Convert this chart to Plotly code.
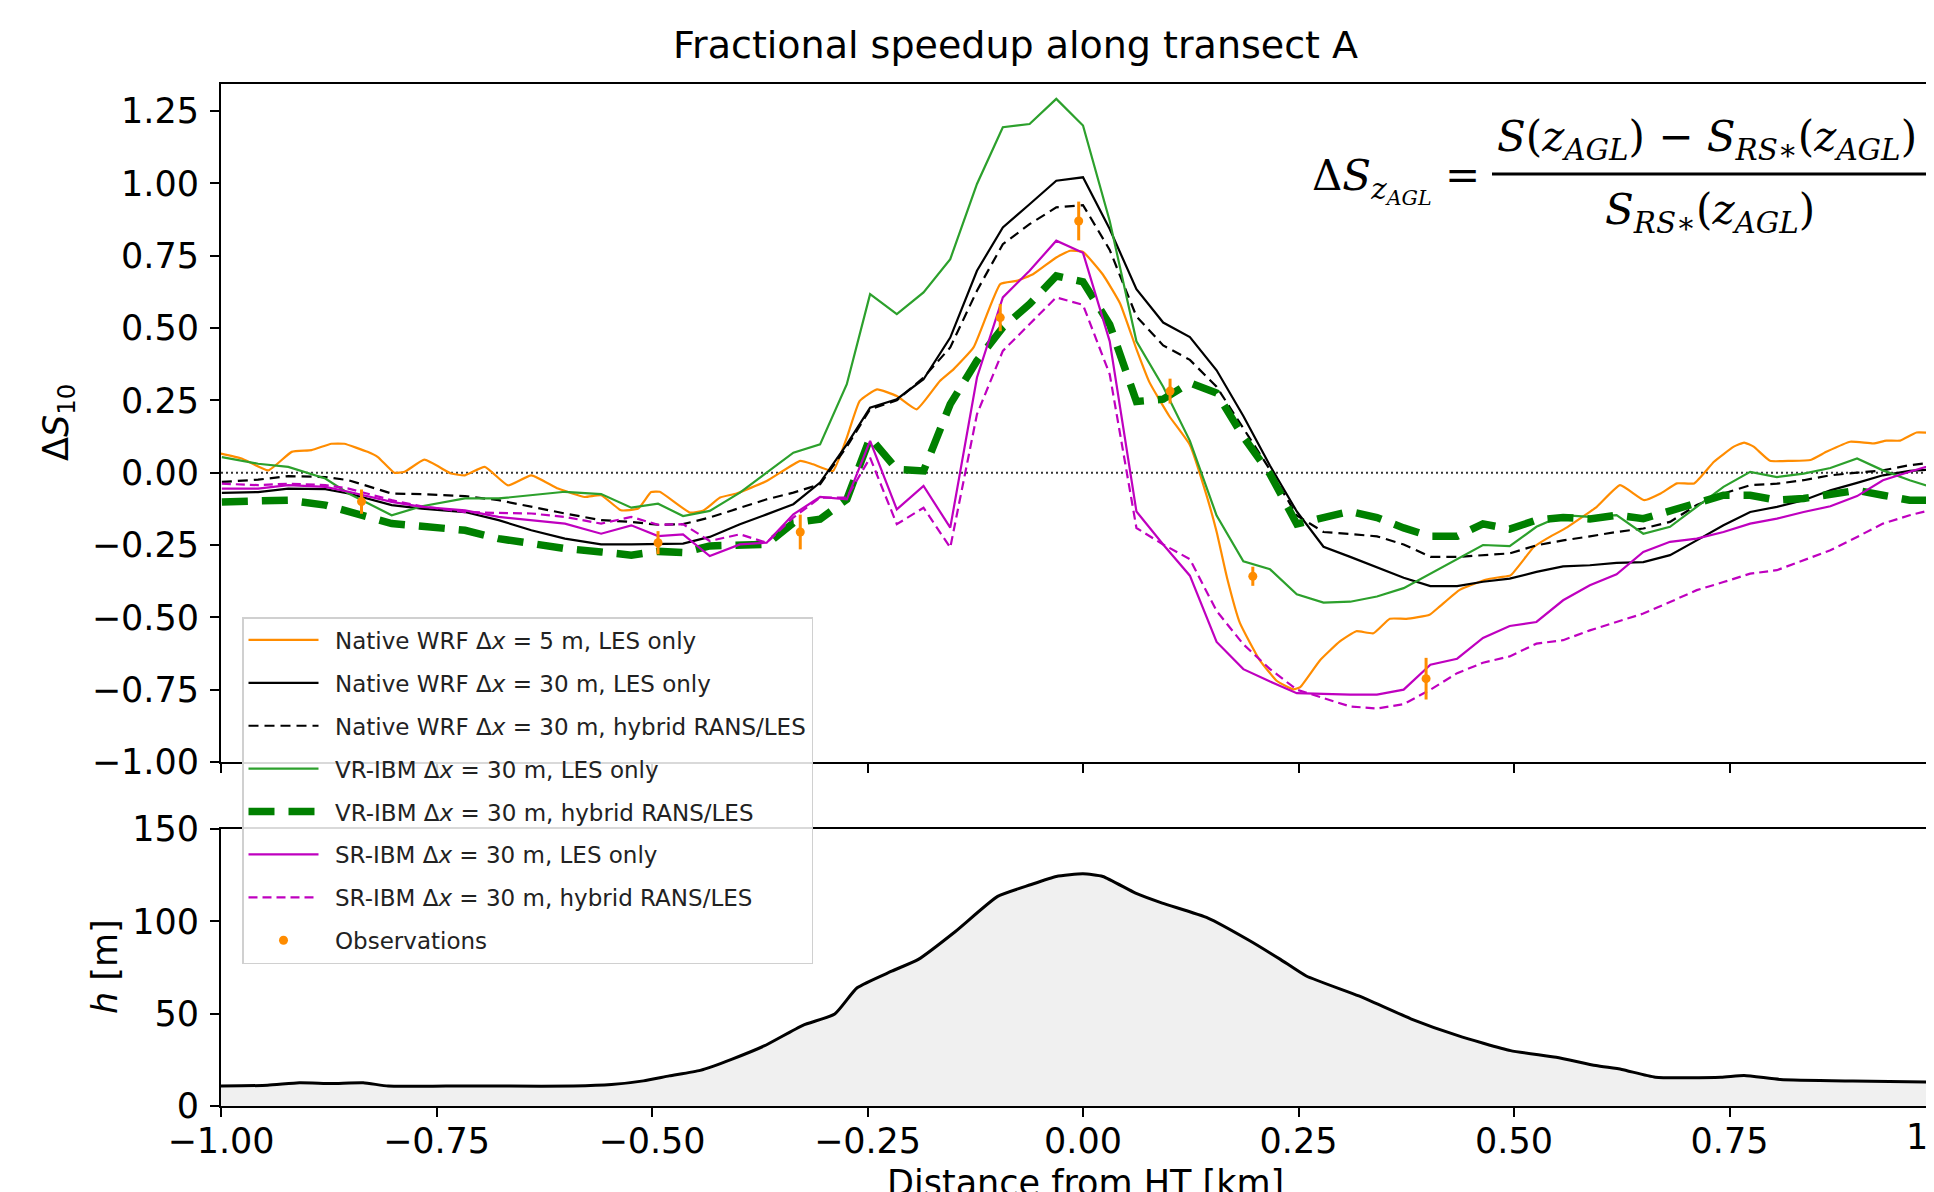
import plotly.graph_objects as go

# ---------------- data ----------------
# common x positions (km) of the Δx = 30 m runs
x_grid = [
    -0.999, -0.957, -0.922, -0.879, -0.852, -0.802, -0.767, -0.717, -0.678, -0.640, -0.601, -0.559, -0.524, -0.493,
    -0.464, -0.433, -0.398, -0.367, -0.336, -0.305, -0.274, -0.247, -0.216, -0.185, -0.154, -0.123, -0.093, -0.062, -0.031, 0.0,
    0.031, 0.062, 0.093, 0.124, 0.155, 0.186, 0.217, 0.248, 0.279, 0.310, 0.341, 0.372, 0.403, 0.434, 0.464, 0.495,
    0.526, 0.557, 0.588, 0.619, 0.650, 0.681, 0.712, 0.743, 0.774, 0.805, 0.836, 0.867, 0.898, 0.928, 0.959, 0.990,
]

native30_les = [
    -0.070, -0.067, -0.055, -0.057, -0.072, -0.112, -0.124, -0.136, -0.164, -0.199, -0.228, -0.248, -0.248, -0.246,
    -0.245, -0.222, -0.178, -0.144, -0.109, -0.034, 0.098, 0.225, 0.254, 0.323, 0.467, 0.698, 0.848, 0.928, 1.009, 1.021,
    0.842, 0.634, 0.519, 0.469, 0.354, 0.196, 0.024, -0.134, -0.256, -0.291, -0.327, -0.363, -0.392, -0.392, -0.377, -0.366,
    -0.343, -0.324, -0.320, -0.312, -0.309, -0.285, -0.234, -0.182, -0.136, -0.118, -0.095, -0.061, -0.035, -0.009, 0.006, 0.012,
]

native30_hyb = [
    -0.032, -0.024, -0.012, -0.015, -0.026, -0.072, -0.074, -0.081, -0.095, -0.118, -0.141, -0.164, -0.170, -0.180,
    -0.178, -0.155, -0.121, -0.092, -0.069, -0.040, 0.090, 0.219, 0.250, 0.329, 0.433, 0.629, 0.790, 0.859, 0.917, 0.925,
    0.770, 0.540, 0.440, 0.390, 0.297, 0.153, 0.010, -0.148, -0.205, -0.212, -0.220, -0.248, -0.291, -0.291, -0.284, -0.279,
    -0.251, -0.234, -0.220, -0.205, -0.193, -0.170, -0.112, -0.072, -0.043, -0.038, -0.026, -0.009, 0.000, 0.008, 0.026, 0.037,
]

vr_les = [
    0.054, 0.031, 0.020, -0.020, -0.072, -0.147, -0.116, -0.089, -0.089, -0.078, -0.066, -0.074, -0.121, -0.107,
    -0.150, -0.132, -0.069, 0.000, 0.069, 0.098, 0.306, 0.617, 0.548, 0.623, 0.738, 0.998, 1.194, 1.205, 1.292, 1.200,
    0.870, 0.454, 0.297, 0.110, -0.148, -0.306, -0.334, -0.420, -0.449, -0.446, -0.428, -0.399, -0.349, -0.299, -0.250, -0.254,
    -0.187, -0.147, -0.153, -0.147, -0.211, -0.187, -0.118, -0.049, 0.003, -0.015, -0.003, 0.016, 0.049, 0.008, -0.026, -0.055,
]

vr_hyb = [
    -0.101, -0.101, -0.095, -0.112, -0.135, -0.176, -0.185, -0.199, -0.228, -0.245, -0.262, -0.274, -0.285, -0.272,
    -0.276, -0.253, -0.253, -0.248, -0.173, -0.161, -0.092, 0.121, 0.012, 0.006, 0.237, 0.387, 0.502, 0.583, 0.680, 0.660,
    0.512, 0.246, 0.254, 0.311, 0.275, 0.124, -0.005, -0.177, -0.155, -0.134, -0.155, -0.191, -0.220, -0.220, -0.177, -0.195,
    -0.164, -0.155, -0.160, -0.147, -0.159, -0.130, -0.107, -0.078, -0.078, -0.095, -0.089, -0.078, -0.061, -0.078, -0.095, -0.095,
]

sr_les = [
    -0.055, -0.055, -0.043, -0.049, -0.066, -0.101, -0.118, -0.130, -0.153, -0.164, -0.176, -0.211, -0.182, -0.219,
    -0.213, -0.288, -0.248, -0.242, -0.144, -0.084, -0.092, 0.110, -0.127, -0.046, -0.190, 0.329, 0.606, 0.698, 0.802, 0.760,
    0.454, -0.134, -0.248, -0.356, -0.585, -0.679, -0.722, -0.762, -0.765, -0.767, -0.767, -0.750, -0.664, -0.643, -0.571, -0.530,
    -0.516, -0.441, -0.389, -0.351, -0.274, -0.239, -0.228, -0.205, -0.176, -0.159, -0.136, -0.116, -0.081, -0.026, 0.003, 0.031,
]

sr_hyb = [
    -0.038, -0.043, -0.038, -0.043, -0.055, -0.095, -0.116, -0.136, -0.139, -0.141, -0.153, -0.176, -0.153, -0.180,
    -0.178, -0.236, -0.213, -0.242, -0.155, -0.086, -0.086, 0.052, -0.178, -0.121, -0.259, 0.202, 0.421, 0.513, 0.606, 0.580,
    0.340, -0.191, -0.248, -0.299, -0.478, -0.593, -0.679, -0.750, -0.779, -0.808, -0.815, -0.800, -0.750, -0.693, -0.657, -0.635,
    -0.591, -0.579, -0.545, -0.516, -0.487, -0.447, -0.406, -0.378, -0.349, -0.337, -0.303, -0.268, -0.222, -0.176, -0.147, -0.124,
]

# Native WRF Δx = 5 m (finer sampling)
native5_x = [
    -1.0, -0.976, -0.945, -0.918, -0.895, -0.872, -0.857, -0.830, -0.818, -0.799, -0.787, -0.764, -0.733, -0.717, -0.694,
    -0.667, -0.640, -0.609, -0.578, -0.559, -0.536, -0.516, -0.501, -0.491, -0.456, -0.441, -0.421, -0.402, -0.367, -0.328,
    -0.313, -0.290, -0.274, -0.259, -0.239, -0.216, -0.193, -0.166, -0.150, -0.127, -0.096, -0.077, -0.058, -0.031, -0.015,
    0.0, 0.023, 0.043, 0.062, 0.077, 0.100, 0.124, 0.143, 0.155, 0.167, 0.182, 0.205, 0.225, 0.244, 0.252,
    0.275, 0.298, 0.317, 0.337, 0.356, 0.375, 0.402, 0.414, 0.437, 0.468, 0.484, 0.496, 0.523, 0.538, 0.562,
    0.596, 0.623, 0.651, 0.670, 0.689, 0.709, 0.732, 0.755, 0.767, 0.778, 0.797, 0.821, 0.844, 0.863, 0.890,
    0.917, 0.932, 0.948, 0.967, 0.990,
]
native5_les = [
    0.066, 0.049, 0.008, 0.072, 0.078, 0.100, 0.100, 0.072, 0.054, 0.000, 0.003, 0.045, -0.003, -0.009, 0.020,
    -0.044, -0.009, -0.055, -0.084, -0.078, -0.130, -0.124, -0.067, -0.066, -0.138, -0.132, -0.086, -0.072, -0.029, 0.041,
    0.029, 0.006, 0.121, 0.248, 0.288, 0.265, 0.219, 0.317, 0.358, 0.433, 0.652, 0.663, 0.686, 0.744, 0.767,
    0.763, 0.685, 0.585, 0.427, 0.313, 0.196, 0.096, -0.075, -0.204, -0.362, -0.519, -0.648, -0.720, -0.749, -0.741,
    -0.648, -0.583, -0.548, -0.555, -0.505, -0.505, -0.491, -0.462, -0.405, -0.369, -0.361, -0.355, -0.257, -0.228, -0.188,
    -0.118, -0.043, -0.095, -0.072, -0.037, -0.037, 0.038, 0.090, 0.104, 0.090, 0.041, 0.041, 0.044, 0.073, 0.107,
    0.101, 0.111, 0.111, 0.139, 0.136,
]

obs_x = [-0.837, -0.493, -0.328, -0.096, -0.005, 0.101, 0.197, 0.398]
obs_y = [-0.100, -0.242, -0.205, 0.536, 0.870, 0.282, -0.358, -0.712]
obs_err = [0.042, 0.040, 0.060, 0.047, 0.067, 0.043, 0.033, 0.072]

terrain_x = [
    -1.0, -0.946, -0.909, -0.872, -0.835, -0.806, -0.739, -0.665, -0.591, -0.547,
    -0.510, -0.480, -0.444, -0.407, -0.370, -0.325, -0.288, -0.262, -0.222, -0.191,
    -0.148, -0.099, -0.061, -0.031, 0.0, 0.023, 0.061, 0.092, 0.145, 0.191,
    0.229, 0.259, 0.320, 0.381, 0.435, 0.496, 0.549, 0.595, 0.625, 0.664,
    0.740, 0.767, 0.809, 0.893, 0.990,
]
terrain_h = [
    10.8, 11.2, 12.6, 12.2, 12.6, 10.8, 10.8, 10.8, 10.8, 11.6,
    13.6, 16.3, 19.3, 25.4, 32.5, 43.7, 49.8, 64.0, 73.0, 79.4,
    94.5, 113.5, 119.8, 124.3, 125.7, 124.3, 115.3, 109.9, 101.8, 90.2,
    79.4, 70.4, 59.6, 47.1, 38.1, 30.0, 26.4, 21.9, 19.8, 15.6,
    15.6, 16.5, 14.4, 13.5, 12.9,
]

x_ticks = [-1.0, -0.75, -0.5, -0.25, 0.0, 0.25, 0.5, 0.75]
ds_ticks = [-1.0, -0.75, -0.5, -0.25, 0.0, 0.25, 0.5, 0.75, 1.0, 1.25]
h_ticks = [0, 50, 100, 150]

labels = [
    "Native WRF Δ<i>x</i> = 5 m, LES only",
    "Native WRF Δ<i>x</i> = 30 m, LES only",
    "Native WRF Δ<i>x</i> = 30 m, hybrid RANS/LES",
    "VR-IBM Δ<i>x</i> = 30 m, LES only",
    "VR-IBM Δ<i>x</i> = 30 m, hybrid RANS/LES",
    "SR-IBM Δ<i>x</i> = 30 m, LES only",
    "SR-IBM Δ<i>x</i> = 30 m, hybrid RANS/LES",
    "Observations",
]

# ---------------- layout geometry ----------------
# the page body has an 8 px margin, so the figure is drawn 8 px right/down of the canvas corner
OFF = 8
CW, CH = 1934, 1192                 # canvas
AX_L, AX_R, AX_T, AX_B = 221, 1934, 84, 1106   # plotting area in canvas pixels
W, H = CW - OFF, CH - OFF
L, T = AX_L - OFF, AX_T - OFF
B = CH - AX_B
PW, PH = AX_R - AX_L, AX_B - AX_T
KM_PX = 862.0


def px(xp):
    return (xp - AX_L) / PW


def py(yp):
    return (AX_B - yp) / PH


ORANGE = "#ff8c00"
BLACK = "#000000"
GREEN = "#2ca02c"
DGREEN = "#008000"
MAG = "#bf00bf"
FONT = "DejaVu Sans"
TICK = 35

fig = go.Figure()

fig.add_trace(go.Scatter(x=terrain_x, y=terrain_h, xaxis="x2", yaxis="y2", mode="lines",
                         line=dict(color="black", width=3, shape="spline", smoothing=0.5),
                         fill="tozeroy", fillcolor="#f0f0f0", showlegend=False, hoverinfo="skip"))

series = [
    (native5_x, native5_les, ORANGE, 2.2, "solid", "spline"),
    (x_grid, native30_les, BLACK, 2.2, "solid", "linear"),
    (x_grid, native30_hyb, BLACK, 2.2, "10px,6px", "linear"),
    (x_grid, vr_les, GREEN, 2.2, "solid", "linear"),
    (x_grid, vr_hyb, DGREEN, 7.5, "26px,14px", "linear"),
    (x_grid, sr_les, MAG, 2.2, "solid", "linear"),
    (x_grid, sr_hyb, MAG, 2.2, "9px,5px", "linear"),
]
for i, (xs, ys, col, wd, dash, shp) in enumerate(series):
    line = dict(color=col, width=wd, dash=dash, shape=shp)
    if shp == "spline":
        line["smoothing"] = 0.4
    fig.add_trace(go.Scatter(x=xs, y=ys, mode="lines", line=line, name="\u2002" + labels[i],
                             legendgroup="g%d" % i, xaxis="x", yaxis="y"))

fig.add_trace(go.Scatter(x=obs_x, y=obs_y, mode="markers", name="\u2002" + labels[7], legendgroup="g7",
                         marker=dict(color=ORANGE, size=9),
                         error_y=dict(type="data", array=obs_err, color=ORANGE, thickness=3, width=0),
                         xaxis="x", yaxis="y"))

axis_common = dict(showline=True, linecolor="black", linewidth=2, ticks="outside", ticklen=9,
                   tickwidth=2, tickcolor="black", showgrid=False, zeroline=False,
                   tickfont=dict(family=FONT, size=TICK, color="black"))

x_range = [-1.0, -1.0 + PW / KM_PX]

fig.update_layout(
    width=W, height=H,
    margin=dict(l=L, r=0, t=T, b=B),
    paper_bgcolor="white", plot_bgcolor="rgba(0,0,0,0)",
    font=dict(family=FONT, color="black"),
    xaxis=dict(domain=[0, 1], anchor="y", range=x_range, tickvals=x_ticks,
               showticklabels=False, mirror=True, **axis_common),
    yaxis=dict(domain=[py(762), 1], anchor="x", range=[-1.0, 1.3435], tickvals=ds_ticks,
               tickformat=".2f", ticklabelstandoff=4, **axis_common),
    xaxis2=dict(domain=[0, 1], anchor="y2", range=x_range, tickvals=x_ticks,
                tickformat=".2f", mirror=True, ticklabelstandoff=-6, **axis_common),
    yaxis2=dict(domain=[0, py(829)], anchor="x2", range=[0, 150], tickvals=h_ticks,
                ticklabelstandoff=4, **axis_common),
    showlegend=True,
    legend=dict(x=px(242), y=py(617), xanchor="left", yanchor="top",
                bgcolor="rgba(255,255,255,0.85)", bordercolor="#d0d0d0", borderwidth=1.5,
                font=dict(family=FONT, size=23, color="#222"), tracegroupgap=10, itemwidth=70,
                traceorder="grouped"),
)

# dotted zero line
fig.add_shape(type="line", xref="x", yref="y", x0=-1.0, x1=1.0, y0=0, y1=0,
              line=dict(color="#333333", width=2, dash="2px,3px"), layer="below")

# formula
SERIF = "DejaVu Serif"
FS = 42
fig.add_shape(type="line", xref="paper", yref="paper", x0=px(1492), x1=px(1950), y0=py(174), y1=py(174),
              line=dict(color="black", width=3))
fig.add_annotation(xref="paper", yref="paper", x=px(1482), y=py(180), xanchor="right", yanchor="middle",
                   text="Δ<i>S</i><sub><i>z<sub>AGL</sub></i></sub> =", showarrow=False,
                   font=dict(family=SERIF, size=FS, color="black"))
fig.add_annotation(xref="paper", yref="paper", x=px(1495), y=py(139), xanchor="left", yanchor="middle",
                   text="<i>S</i>(<i>z<sub>AGL</sub></i>) − <i>S<sub>RS∗</sub></i>(<i>z<sub>AGL</sub></i>)",
                   showarrow=False, font=dict(family=SERIF, size=FS, color="black"))
fig.add_annotation(xref="paper", yref="paper", x=px(1710), y=py(212), xanchor="center", yanchor="middle",
                   text="<i>S<sub>RS∗</sub></i>(<i>z<sub>AGL</sub></i>)",
                   showarrow=False, font=dict(family=SERIF, size=FS, color="black"))

# title and axis titles
fig.add_annotation(xref="paper", yref="paper", x=px(1015), y=py(45), xanchor="center", yanchor="middle",
                   text="Fractional speedup along transect A", showarrow=False,
                   font=dict(family=FONT, size=38, color="black"))
fig.add_annotation(xref="paper", yref="paper", x=px(58), y=py(423), xanchor="center", yanchor="middle",
                   text="Δ<i>S</i><sub>10</sub>", textangle=-90, showarrow=False,
                   font=dict(family=FONT, size=TICK, color="black"))
fig.add_annotation(xref="paper", yref="paper", x=px(105), y=py(967), xanchor="center", yanchor="middle",
                   text="<i>h</i> [m]", textangle=-90, showarrow=False,
                   font=dict(family=FONT, size=TICK, color="black"))
fig.add_annotation(xref="paper", yref="paper", x=px(1085), y=py(1183), xanchor="center", yanchor="middle",
                   text="Distance from HT [km]", showarrow=False,
                   font=dict(family=FONT, size=TICK, color="black"))
# partially visible last tick label (x = 1.00 km lies just beyond the right edge)
fig.add_annotation(xref="paper", yref="paper", x=px(AX_L + 2 * KM_PX), y=py(1137), xanchor="center",
                   yanchor="middle", text="1.00", showarrow=False,
                   font=dict(family=FONT, size=TICK, color="black"))

fig.write_html("out.html")
